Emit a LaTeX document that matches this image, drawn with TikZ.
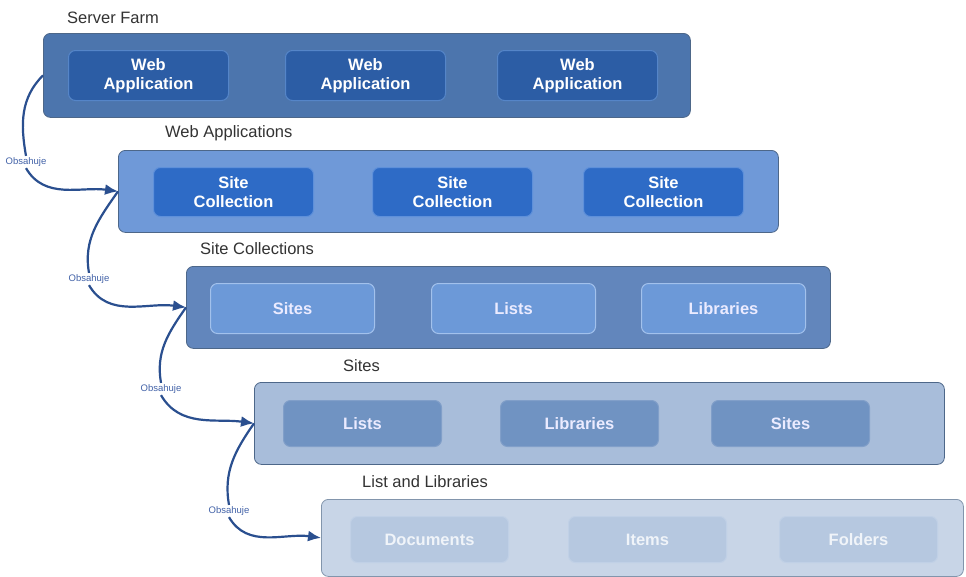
\documentclass[tikz,border=0pt]{standalone}
\usepackage{fontspec}
\setmainfont{Liberation Sans}
\usetikzlibrary{arrows.meta}
\definecolor{farmfill}{HTML}{4C75AD}
\definecolor{farmitem}{HTML}{2C5DA5}
\definecolor{farmedge}{HTML}{5585C8}
\definecolor{appfill}{HTML}{6F99D8}
\definecolor{appitem}{HTML}{2E6BC6}
\definecolor{appedge}{HTML}{5E90DA}
\definecolor{collfill}{HTML}{6286BC}
\definecolor{collitem}{HTML}{6C99D8}
\definecolor{colledge}{HTML}{A2C1EC}
\definecolor{sitefill}{HTML}{A8BDDA}
\definecolor{siteitem}{HTML}{7093C2}
\definecolor{siteedge}{HTML}{819FC9}
\definecolor{listfill}{HTML}{C8D5E7}
\definecolor{listitem}{HTML}{B6C8E0}
\definecolor{listedge}{HTML}{C0D0E6}
\definecolor{boxedge}{HTML}{4D6789}
\definecolor{arrowblue}{HTML}{2A4F8F}
\definecolor{obstext}{HTML}{4262A8}
\begin{document}
\begin{tikzpicture}[x=1pt,y=-1pt,
  layer/.style={draw=boxedge, rounded corners=7pt, line width=0.8pt, anchor=north west, inner sep=0pt},
  item/.style={rounded corners=7pt, line width=1pt, anchor=north west, align=center, text=white,
    font=\bfseries\fontsize{16.5}{19.5}\selectfont},
  title/.style={anchor=base west, inner sep=0pt, text=black!80, font=\fontsize{16.5}{19}\selectfont},
  obs/.style={text=obstext, inner sep=1.5pt, font=\fontsize{9.5}{10}\selectfont},
  link/.style={line width=2.2pt, draw=arrowblue, -{Latex[length=13pt,width=11pt]}}]
\useasboundingbox (0,0) rectangle (966,576);
\fill[white] (0,0) rectangle (966,576);
% Server Farm
\node[title] (farm-title) at (67,23) {Server Farm};
\node[layer, fill=farmfill, minimum width=647pt, minimum height=84pt] (farm) at (43,33) {};
\foreach \x [count=\i] in {68,285,497}
  \node[item, fill=farmitem, draw=farmedge, minimum width=160pt, minimum height=50pt] (farm-\i) at (\x,50) {Web\\Application};
% Web Applications
\node[title] (app-title) at (165,137) {Web Applications};
\node[layer, fill=appfill, minimum width=660pt, minimum height=82pt] (apps) at (118,150) {};
\foreach \x [count=\i] in {153,372,583}
  \node[item, fill=appitem, draw=appedge, minimum width=160pt, minimum height=49pt] (apps-\i) at (\x,167) {Site\\Collection};
% Site Collections
\node[title] (coll-title) at (200,254) {Site Collections};
\node[layer, fill=collfill, minimum width=644pt, minimum height=82pt] (colls) at (186,266) {};
\foreach \x/\t [count=\i] in {210/Sites,431/Lists,641/Libraries}
  \node[item, fill=collitem, draw=colledge, text=white!92!blue, minimum width=164pt, minimum height=50pt] (colls-\i) at (\x,283) {\t};
% Sites
\node[title] (site-title) at (343,371) {Sites};
\node[layer, fill=sitefill, minimum width=690pt, minimum height=82pt] (sites) at (254,382) {};
\foreach \x/\t [count=\i] in {283/Lists,500/Libraries,711/Sites}
  \node[item, fill=siteitem, draw=siteedge, text=white!92!blue, minimum width=158pt, minimum height=46pt] (sites-\i) at (\x,400) {\t};
% List and Libraries
\node[title] (list-title) at (362,487) {List and Libraries};
\node[layer, draw=boxedge!70, fill=listfill, minimum width=642pt, minimum height=77pt] (lists) at (321,499) {};
\foreach \x/\t [count=\i] in {350/Documents,568/Items,779/Folders}
  \node[item, fill=listitem, draw=listedge, text=white!80!listitem, minimum width=158pt, minimum height=46pt] (lists-\i) at (\x,516) {\t};
% Obsahuje
\node[obs] (o1) at (26,162) {Obsahuje};
\node[obs] (o2) at (89,279) {Obsahuje};
\node[obs] (o3) at (161,389) {Obsahuje};
\node[obs] (o4) at (229,511) {Obsahuje};
\draw[link] (farm.west) to[out=225,in=100] (o1.north) (o1.south) to[out=-60,in=172] (apps.west);
\draw[link] (apps.west) to[out=235,in=100] (o2.north) (o2.south) to[out=-60,in=172] (colls.west);
\draw[link] (colls.west) to[out=235,in=100] (o3.north) (o3.south) to[out=-60,in=172] (sites.west);
\draw[link] (sites.west) to[out=235,in=100] (o4.north) (o4.south) to[out=-60,in=172] (lists.west);
\end{tikzpicture}
\end{document}
